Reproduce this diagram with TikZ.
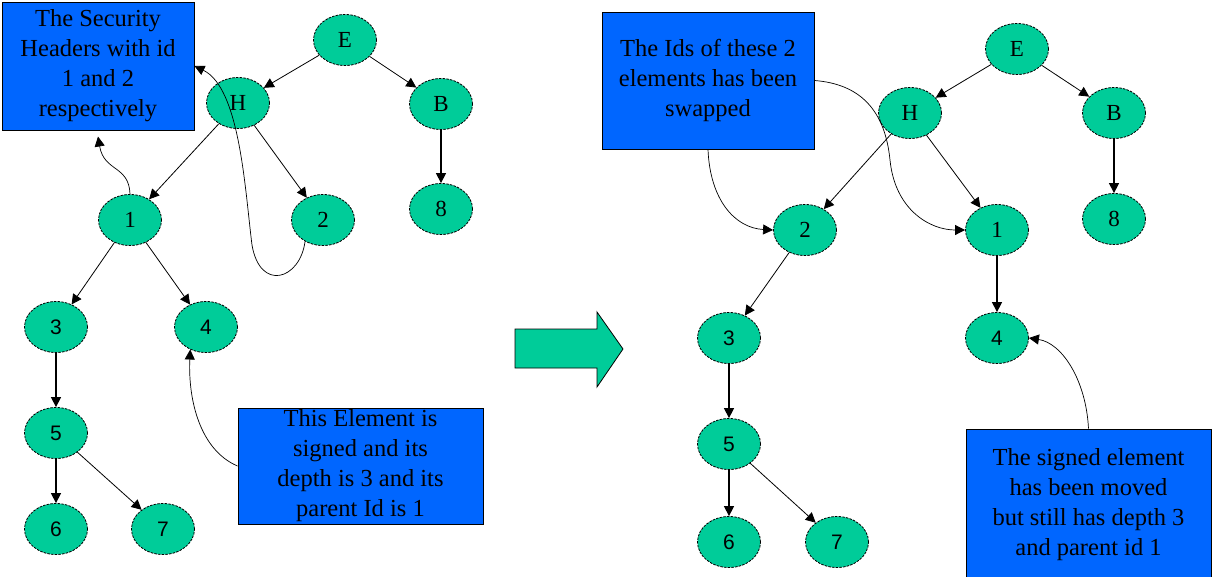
\documentclass[tikz,border=0pt]{standalone}
\usepackage{fontspec}
\setmainfont{Liberation Serif}
\newfontfamily\digitfont{Liberation Sans}
\usetikzlibrary{shapes.geometric,arrows.meta}
\definecolor{nodegreen}{RGB}{0,204,153}
\definecolor{noteblue}{RGB}{0,102,255}
\begin{document}
\begin{tikzpicture}[x=1pt,y=-1pt,
  elem/.style={ellipse, draw=black, fill=nodegreen, dash pattern=on 2.5pt off 1.2pt,
    line width=0.8pt, minimum width=63pt, minimum height=51pt, inner sep=0pt,
    font=\fontsize{23}{23}\selectfont},
  num/.style={elem, font=\digitfont\fontsize{21}{21}\selectfont},
  note/.style={rectangle, draw=black, fill=noteblue, line width=1pt, align=center,
    inner sep=0pt, font=\fontsize{24.5}{30}\selectfont},
  edge/.style={line width=0.8pt, -{Triangle[length=10pt,width=10pt]}},
  stem/.style={edge, line width=1.3pt},
  link/.style={line width=0.7pt, -{Triangle[length=10pt,width=10pt]}},
]
\useasboundingbox (0,0) rectangle (1213,576);

% ---------- original tree ----------
\node[note, minimum width=192pt, minimum height=128pt] (box1) at (98,66)
  {The Security\\Headers with id\\1 and 2\\respectively};
\node[note, minimum width=245pt, minimum height=116pt] (box2) at (360.5,466)
  {This Element is\\signed and its\\depth is 3 and its\\parent Id is 1};

\node[elem] (LE) at (345,40) {E};
\node[elem] (LH) at (238,103) {H};
\node[elem] (LB) at (441,104) {B};
\node[elem] (L1) at (130,220) {1};
\node[elem] (L2) at (323,220) {2};
\node[elem] (L8) at (441,209) {8};
\node[num]  (L3) at (56,327) {3};
\node[num]  (L4) at (206,327) {4};
\node[num]  (L5) at (56,433) {5};
\node[num]  (L6) at (56,529) {6};
\node[num]  (L7) at (163,529) {7};

\draw[edge] (LE) -- (LH);
\draw[edge] (LE) -- (LB);
\draw[stem] (LB) -- (L8);
\draw[edge] (LH) -- (L1);
\draw[edge] (LH) -- (L2);
\draw[edge] (L1) -- (L3);
\draw[edge] (L1) -- (L4);
\draw[stem] (L3) -- (L5);
\draw[stem] (L5) -- (L6);
\draw[edge] (L5) -- (L7);

\draw[link] (L1.north) .. controls (129,165) and (104,172) .. ([yshift=-6pt]box1.south);
\draw[link] (L2.230) .. controls (300,280) and (260,292) .. (252,245)
  .. controls (245,190) and (240,88) .. (box1.east);
\draw[link] (box2.west) .. controls (200,450) and (188,400) .. (L4.235);

% ---------- transition arrow ----------
\draw[fill=nodegreen, line width=0.8pt]
  (515,329) -- (597,329) -- (597,312) -- (623,349) -- (597,387) -- (597,368) -- (515,368) -- cycle;

% ---------- tree after the swap ----------
\node[note, minimum width=212pt, minimum height=137pt] (box3) at (708,80.5)
  {The Ids of these 2\\elements has been\\swapped};
\node[note, minimum width=245pt, minimum height=152pt] (box4) at (1088.5,505)
  {The signed element\\has been moved\\but still has depth 3\\and parent id 1};

\node[elem] (RE) at (1017,49) {E};
\node[elem] (RH) at (910,113) {H};
\node[elem] (RB) at (1114,113) {B};
\node[elem] (R2) at (805,230) {2};
\node[elem] (R1) at (997,230) {1};
\node[elem] (R8) at (1114,219) {8};
\node[num]  (R3) at (729,338) {3};
\node[num]  (R4) at (997,338) {4};
\node[num]  (R5) at (729,444) {5};
\node[num]  (R6) at (729,542) {6};
\node[num]  (R7) at (837,542) {7};

\draw[edge] (RE) -- (RH);
\draw[edge] (RE) -- (RB);
\draw[stem] (RB) -- (R8);
\draw[edge] (RH) -- (R2);
\draw[edge] (RH) -- (R1);
\draw[edge] (R2) -- (R3);
\draw[stem] (R1) -- (R4);
\draw[stem] (R3) -- (R5);
\draw[stem] (R5) -- (R6);
\draw[edge] (R5) -- (R7);

\draw[link] (box3.south) .. controls (710,200) and (735,228) .. (R2.west);
\draw[link] (box3.east) .. controls (860,84) and (885,110) .. (890,160)
  .. controls (895,210) and (930,230) .. (R1.west);
\draw[link] (box4.north) .. controls (1086,380) and (1062,343) .. (R4.east);
\end{tikzpicture}
\end{document}
